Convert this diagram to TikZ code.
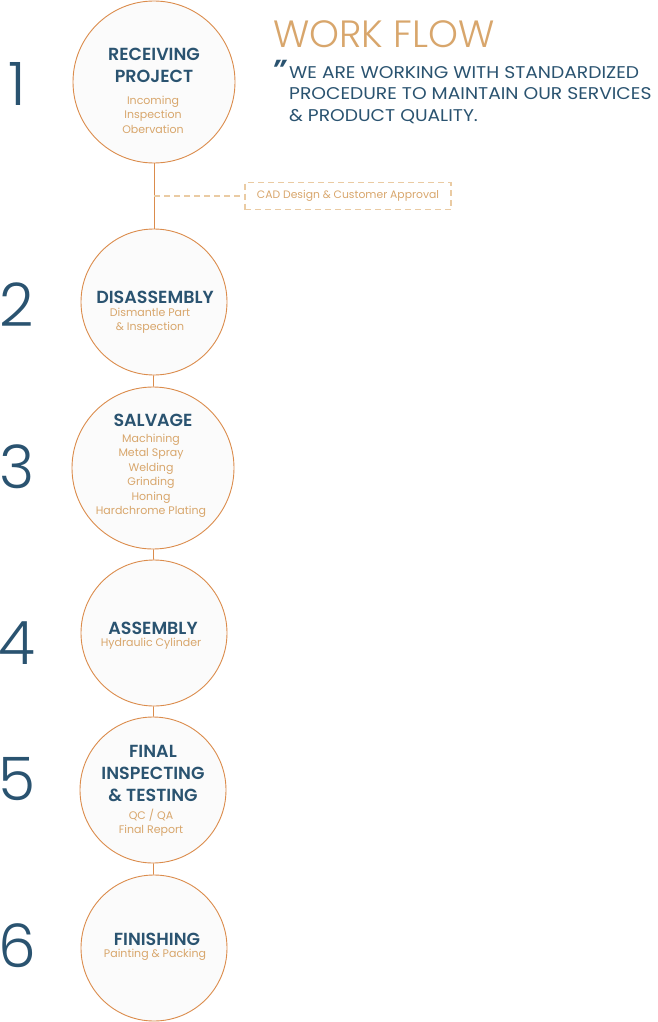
\documentclass[tikz,border=0pt]{standalone}
\usepackage{fontspec}
\setmainfont{Poppins}
\IfFontExistsTF{Poppins Light}{\newfontfamily\lightfont{Poppins Light}}{\newfontfamily\lightfont{Poppins}}
\IfFontExistsTF{Poppins SemiBold}{\newfontfamily\semifont{Poppins SemiBold}}{\newfontfamily\semifont{Poppins}[BoldFont=*]}
\newfontfamily\widefont{Poppins}[FakeStretch=1.1]
\usepackage{xcolor}
\usepackage{tikz}
\usetikzlibrary{positioning}

\definecolor{stepblue}{HTML}{2A5370}
\definecolor{steptan}{HTML}{D8A66C}
\definecolor{ringorange}{HTML}{DB8C4C}
\definecolor{dashtan}{HTML}{EACBA3}
\definecolor{ringfill}{HTML}{FBFBFB}

\begin{document}
\begin{tikzpicture}[
  x=1pt, y=-1pt,
  bigring/.style={circle, draw=ringorange, fill=ringfill, line width=0.9pt, minimum size=162pt, inner sep=0pt},
  ring/.style={circle, draw=ringorange, fill=ringfill, line width=0.9pt, minimum size=146pt, inner sep=0pt},
  title/.style={align=center, inner sep=0pt, text=stepblue, font=\fontsize{17.5}{22}\selectfont\semifont},
  sub/.style={align=center, inner sep=0pt, text=steptan, font=\fontsize{11}{14.5}\selectfont},
  num/.style={inner sep=0pt, text=stepblue, font=\fontsize{60}{60}\selectfont\lightfont},
  link/.style={draw=ringorange, line width=0.9pt},
  dlink/.style={draw=dashtan, line width=1.3pt, dash pattern=on 6pt off 4pt}
]
\useasboundingbox (0,0) rectangle (657,1022);

% Steps
\node[bigring] (c1) at (154, 82) {};
\node[ring]    (c2) at (154,302) {};
\node[bigring] (c3) at (153,468) {};
\node[ring]    (c4) at (154,633) {};
\node[ring]    (c5) at (153,790) {};
\node[ring]    (c6) at (154,948) {};

% Connections
\draw[link] (c1) -- (c2);
\draw[link] (c2) -- (c3);
\draw[link] (c3) -- (c4);
\draw[link] (c4) -- (c5);
\draw[link] (c5) -- (c6);

% Side note
\node[draw=dashtan, line width=1.3pt, dash pattern=on 6pt off 4pt, minimum width=206pt, minimum height=27pt, inner sep=0pt, text=steptan, font=\fontsize{10.8}{12}\selectfont] (cad) at (348,196) {CAD Design \& Customer Approval};
\coordinate (branch) at (154,196);
\draw[dlink] (branch) -- (cad.west);

% Step texts
\node[title] (t1) at (154, 65) {RECEIVING\\PROJECT};
\node[sub]   (s1) at (153,114.5) {Incoming\\Inspection\\Obervation};
\node[title] (t2) at (155,297) {DISASSEMBLY};
\node[sub]   (s2) at (150,320.5) {Dismantle Part\\\& Inspection};
\node[title] (t3) at (153,420) {SALVAGE};
\node[sub]   (s3) at (151,476) {Machining\\Metal Spray\\Welding\\Grinding\\Honing\\Hardchrome Plating};
\node[title] (t4) at (153,628) {ASSEMBLY};
\node[sub]   (s4) at (151,644) {Hydraulic Cylinder};
\node[title] (t5) at (153,773) {FINAL\\INSPECTING\\\& TESTING};
\node[sub]   (s5) at (151,822.5) {QC / QA\\Final Report};
\node[title] (t6) at (157,939) {FINISHING};
\node[sub]   (s6) at (155,955) {Painting \& Packing};

% Numbers
\node[num] (n1) at (17, 84) {1};
\node[num] (n2) at (17,305) {2};
\node[num] (n3) at (17,467) {3};
\node[num] (n4) at (17,643) {4};
\node[num] (n5) at (17,779) {5};
\node[num] (n6) at (17,946) {6};

% Heading
\node[anchor=west, inner sep=0pt, text=steptan, font=\fontsize{38}{38}\selectfont\lightfont] (head) at (273,34) {WORK FLOW};
\node[anchor=north, inner sep=0pt, text=stepblue, font=\fontsize{26}{26}\selectfont\bfseries\itshape] (quote) at (279,60) {\char"201D};
\node[anchor=west, align=left, inner sep=0pt, text=stepblue, font=\fontsize{17}{21.5}\selectfont\widefont] (motto) at (289,95) {WE ARE WORKING WITH STANDARDIZED\\PROCEDURE TO MAINTAIN OUR SERVICES\\\& PRODUCT QUALITY.};

\end{tikzpicture}
\end{document}
